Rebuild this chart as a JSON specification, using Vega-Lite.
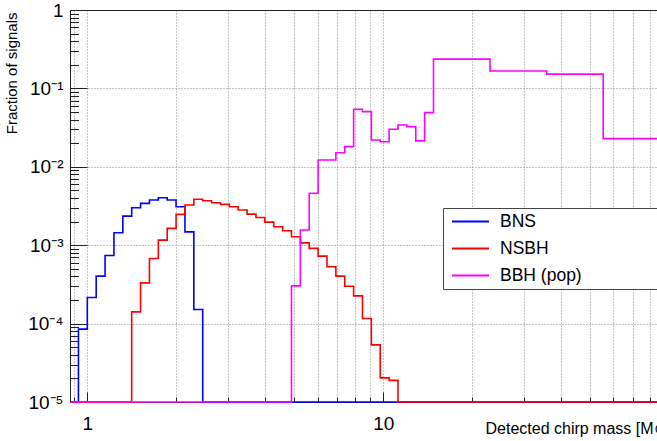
{
  "$schema": "https://vega.github.io/schema/vega-lite/v6.json",
  "width": 587,
  "height": 392,
  "autosize": {"type": "none"},
  "padding": {"left": 70, "top": 10, "right": 0, "bottom": 39},
  "background": "white",
  "config": {"font": "Liberation Sans", "view": {"stroke": null}},
  "data": {"values": [
    {"type": "BNS", "mass": 0.874, "fraction": 1e-5},
    {"type": "BNS", "mass": 0.9333, "fraction": 8.5e-5},
    {"type": "BNS", "mass": 1.0, "fraction": 2.15e-4},
    {"type": "BNS", "mass": 1.0715, "fraction": 4.03e-4},
    {"type": "BNS", "mass": 1.1482, "fraction": 7.4e-4},
    {"type": "BNS", "mass": 1.2303, "fraction": 1.44e-3},
    {"type": "BNS", "mass": 1.3183, "fraction": 2.35e-3},
    {"type": "BNS", "mass": 1.4125, "fraction": 3.0e-3},
    {"type": "BNS", "mass": 1.5136, "fraction": 3.42e-3},
    {"type": "BNS", "mass": 1.6218, "fraction": 3.77e-3},
    {"type": "BNS", "mass": 1.7378, "fraction": 4.03e-3},
    {"type": "BNS", "mass": 1.8621, "fraction": 3.77e-3},
    {"type": "BNS", "mass": 1.9953, "fraction": 3.1e-3},
    {"type": "BNS", "mass": 2.138, "fraction": 1.48e-3},
    {"type": "BNS", "mass": 2.2909, "fraction": 1.51e-4},
    {"type": "BNS", "mass": 2.4547, "fraction": 1e-5},
    {"type": "BNS", "mass": 84.2, "fraction": 1e-5},
    {"type": "NSBH", "mass": 0.874, "fraction": 1e-5},
    {"type": "NSBH", "mass": 1.4125, "fraction": 1.41e-4},
    {"type": "NSBH", "mass": 1.5136, "fraction": 3.31e-4},
    {"type": "NSBH", "mass": 1.6218, "fraction": 6.78e-4},
    {"type": "NSBH", "mass": 1.7378, "fraction": 1.16e-3},
    {"type": "NSBH", "mass": 1.8621, "fraction": 1.64e-3},
    {"type": "NSBH", "mass": 1.9953, "fraction": 2.47e-3},
    {"type": "NSBH", "mass": 2.138, "fraction": 3.25e-3},
    {"type": "NSBH", "mass": 2.2909, "fraction": 3.85e-3},
    {"type": "NSBH", "mass": 2.4547, "fraction": 3.69e-3},
    {"type": "NSBH", "mass": 2.6303, "fraction": 3.48e-3},
    {"type": "NSBH", "mass": 2.8184, "fraction": 3.32e-3},
    {"type": "NSBH", "mass": 3.02, "fraction": 3.1e-3},
    {"type": "NSBH", "mass": 3.2359, "fraction": 2.81e-3},
    {"type": "NSBH", "mass": 3.4674, "fraction": 2.49e-3},
    {"type": "NSBH", "mass": 3.7154, "fraction": 2.26e-3},
    {"type": "NSBH", "mass": 3.9811, "fraction": 1.97e-3},
    {"type": "NSBH", "mass": 4.2658, "fraction": 1.72e-3},
    {"type": "NSBH", "mass": 4.5709, "fraction": 1.53e-3},
    {"type": "NSBH", "mass": 4.8978, "fraction": 1.28e-3},
    {"type": "NSBH", "mass": 5.2481, "fraction": 1.07e-3},
    {"type": "NSBH", "mass": 5.6234, "fraction": 9.1e-4},
    {"type": "NSBH", "mass": 6.0256, "fraction": 7.26e-4},
    {"type": "NSBH", "mass": 6.4565, "fraction": 5.3e-4},
    {"type": "NSBH", "mass": 6.9183, "fraction": 4.03e-4},
    {"type": "NSBH", "mass": 7.4131, "fraction": 3.0e-4},
    {"type": "NSBH", "mass": 7.9433, "fraction": 2.26e-4},
    {"type": "NSBH", "mass": 8.5114, "fraction": 1.16e-4},
    {"type": "NSBH", "mass": 9.1201, "fraction": 5.35e-5},
    {"type": "NSBH", "mass": 9.7724, "fraction": 2.03e-5},
    {"type": "NSBH", "mass": 10.4713, "fraction": 1.89e-5},
    {"type": "NSBH", "mass": 11.2202, "fraction": 1e-5},
    {"type": "NSBH", "mass": 84.2, "fraction": 1e-5},
    {"type": "BBH (pop)", "mass": 0.874, "fraction": 1e-5},
    {"type": "BBH (pop)", "mass": 4.8978, "fraction": 3.03e-4},
    {"type": "BBH (pop)", "mass": 5.2481, "fraction": 1.56e-3},
    {"type": "BBH (pop)", "mass": 5.6234, "fraction": 4.59e-3},
    {"type": "BBH (pop)", "mass": 6.0256, "fraction": 1.22e-2},
    {"type": "BBH (pop)", "mass": 6.4565, "fraction": 1.22e-2},
    {"type": "BBH (pop)", "mass": 6.9183, "fraction": 1.51e-2},
    {"type": "BBH (pop)", "mass": 7.4131, "fraction": 1.81e-2},
    {"type": "BBH (pop)", "mass": 7.9433, "fraction": 5.42e-2},
    {"type": "BBH (pop)", "mass": 8.5114, "fraction": 5.06e-2},
    {"type": "BBH (pop)", "mass": 9.1201, "fraction": 2.2e-2},
    {"type": "BBH (pop)", "mass": 9.7724, "fraction": 2.09e-2},
    {"type": "BBH (pop)", "mass": 10.4713, "fraction": 3.01e-2},
    {"type": "BBH (pop)", "mass": 11.2202, "fraction": 3.42e-2},
    {"type": "BBH (pop)", "mass": 12.0226, "fraction": 3.25e-2},
    {"type": "BBH (pop)", "mass": 12.8825, "fraction": 2.14e-2},
    {"type": "BBH (pop)", "mass": 13.8038, "fraction": 4.91e-2},
    {"type": "BBH (pop)", "mass": 14.7911, "fraction": 0.236},
    {"type": "BBH (pop)", "mass": 22.96, "fraction": 0.167},
    {"type": "BBH (pop)", "mass": 35.7, "fraction": 0.152},
    {"type": "BBH (pop)", "mass": 55.4, "fraction": 0.0229},
    {"type": "BBH (pop)", "mass": 84.2, "fraction": 0.0229}
  ]},
  "resolve": {"axis": {"x": "independent", "y": "independent"}},
  "layer": [
    {
      "mark": {"type": "line", "interpolate": "step-after", "strokeWidth": 1.6},
      "encoding": {
        "x": {"field": "mass", "type": "quantitative",
          "scale": {"type": "log", "domain": [0.874, 84.2], "nice": false},
          "axis": {"orient": "bottom", "values": [1, 10], "ticks": false, "grid": false, "domain": true,
            "domainColor": "#222", "labelFontSize": 19, "labelColor": "black", "labelPadding": 12, "labelBaseline": "top",
            "labelExpr": "datum.value < 5 ? '1' : '10'",
            "title": "Detected chirp mass [M⊙]", "titleFontSize": 16, "titleFontWeight": "normal", "titleColor": "black",
            "titleAlign": "left", "titleAnchor": "start", "titleX": 415, "titleY": 31, "titleBaseline": "alphabetic"}},
        "y": {"field": "fraction", "type": "quantitative",
          "scale": {"type": "log", "domain": [1e-5, 1], "nice": false},
          "axis": {"orient": "left", "values": [1e-5, 1e-4, 1e-3, 1e-2, 1e-1, 1], "ticks": false, "domain": true, "domainColor": "#222",
            "grid": true, "gridColor": "#888", "gridDash": [1, 2], "gridWidth": 1,
            "labelFontSize": 19, "labelColor": "black", "labelPadding": 7, "labelBaseline": "middle",
            "labelExpr": "datum.value > 0.5 ? '1' : '10' + ['', '⁻¹', '⁻²', '⁻³', '⁻⁴', '⁻⁵'][round(-log(datum.value) / LN10)]",
            "title": "Fraction of signals", "titleFontSize": 15, "titleFontWeight": "normal", "titleColor": "black",
            "titleAngle": 270, "titleAlign": "right", "titleAnchor": "end", "titleBaseline": "top", "titleX": -66, "titleY": 2}},
        "color": {"field": "type", "type": "nominal",
          "scale": {"domain": ["BNS", "NSBH", "BBH (pop)"], "range": ["#0000ff", "#ff0000", "#ff00ff"]},
          "legend": {"title": null, "orient": "none", "legendX": 373, "legendY": 198,
            "symbolType": "stroke", "symbolSize": 1369, "symbolStrokeWidth": 2, "symbolOffset": 6,
            "clipHeight": 23, "rowPadding": 4, "padding": 2, "labelOffset": 10,
            "labelFontSize": 17.5, "labelColor": "black", "labelLimit": 0,
            "labelExpr": "datum.label + '\u00a0\u00a0\u00a0\u00a0\u00a0\u00a0\u00a0\u00a0\u00a0\u00a0\u00a0\u00a0\u00a0\u00a0\u00a0\u00a0\u00a0\u00a0\u00a0\u00a0\u00a0\u00a0\u200b'",
            "strokeColor": "#444", "fillColor": "white"}}
      }
    },
    {
      "mark": {"type": "line", "opacity": 0},
      "encoding": {
        "x": {"field": "mass", "type": "quantitative",
          "scale": {"type": "log", "domain": [0.874, 84.2], "nice": false},
          "axis": {"orient": "bottom", "values": [1, 10], "ticks": true, "tickSize": -10, "tickColor": "#222", "labels": false,
            "grid": false, "domain": false, "title": null}},
        "y": {"field": "fraction", "type": "quantitative",
          "scale": {"type": "log", "domain": [1e-5, 1], "nice": false},
          "axis": {"orient": "left", "values": [1e-5, 1e-4, 1e-3, 1e-2, 1e-1, 1], "ticks": true, "tickSize": -17, "tickColor": "#222",
            "labels": false, "grid": false, "domain": false, "title": null}}
      }
    },
    {
      "mark": {"type": "line", "opacity": 0},
      "encoding": {
        "x": {"field": "mass", "type": "quantitative",
          "scale": {"type": "log", "domain": [0.874, 84.2], "nice": false},
          "axis": {"orient": "bottom", "values": [0.9, 1, 2, 3, 4, 5, 6, 7, 8, 9, 10, 20, 30, 40, 50, 60, 70, 80],
            "ticks": true, "tickSize": -5, "tickColor": "#222", "labels": false,
            "grid": true, "gridColor": "#888", "gridDash": [1, 2], "gridWidth": 1, "domain": false, "title": null}},
        "y": {"field": "fraction", "type": "quantitative",
          "scale": {"type": "log", "domain": [1e-5, 1], "nice": false},
          "axis": {"orient": "left",
            "values": [2e-5, 3e-5, 4e-5, 5e-5, 6e-5, 7e-5, 8e-5, 9e-5, 2e-4, 3e-4, 4e-4, 5e-4, 6e-4, 7e-4, 8e-4, 9e-4, 2e-3, 3e-3, 4e-3, 5e-3, 6e-3, 7e-3, 8e-3, 9e-3, 2e-2, 3e-2, 4e-2, 5e-2, 6e-2, 7e-2, 8e-2, 9e-2, 0.2, 0.3, 0.4, 0.5, 0.6, 0.7, 0.8, 0.9],
            "ticks": true, "tickSize": -8.5, "tickColor": "#222", "labels": false, "grid": false, "domain": false, "title": null}}
      }
    },
    {
      "mark": {"type": "line", "opacity": 0},
      "encoding": {
        "x": {"field": "mass", "type": "quantitative",
          "scale": {"type": "log", "domain": [0.874, 84.2], "nice": false},
          "axis": {"orient": "top", "ticks": false, "labels": false, "grid": false, "domain": true, "domainColor": "#222", "title": null}},
        "y": {"field": "fraction", "type": "quantitative",
          "scale": {"type": "log", "domain": [1e-5, 1], "nice": false},
          "axis": null}
      }
    }
  ]
}
